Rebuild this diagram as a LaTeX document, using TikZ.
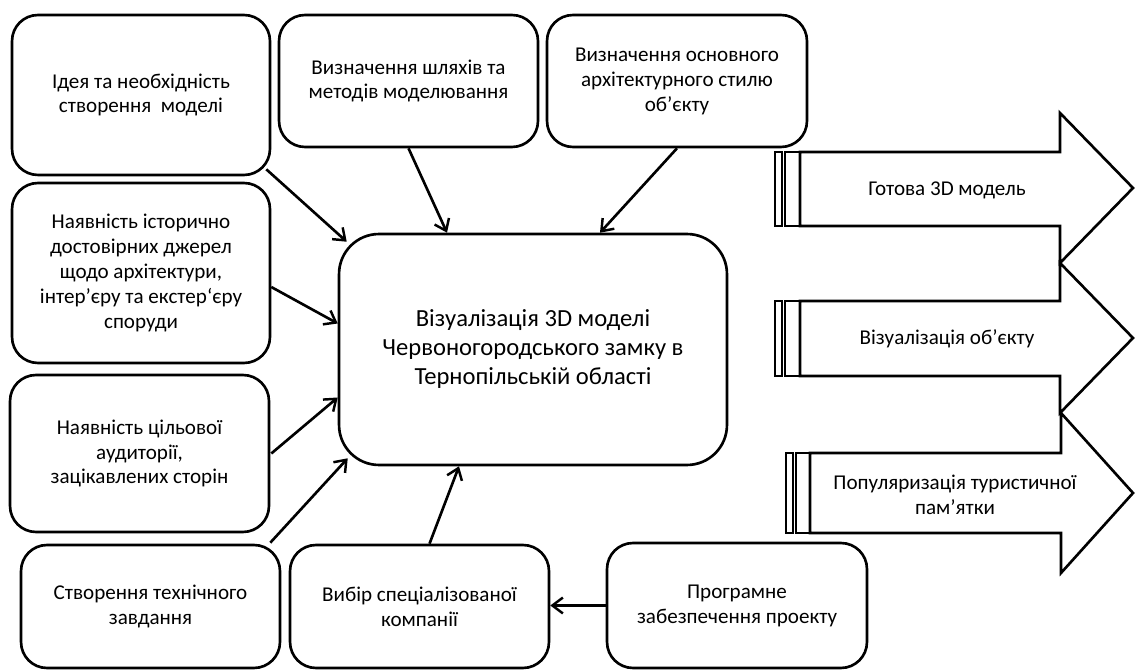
\documentclass[tikz,border=0pt]{standalone}
\usepackage{fontspec}
\setmainfont{Carlito}
\usetikzlibrary{arrows.meta,calc}
\begin{document}
\begin{tikzpicture}[x=0.02cm,y=-0.02cm,
  box/.style={draw, line width=1.5pt, rounded corners=0.52cm, align=center, inner sep=0pt, fill=white,
    font=\fontsize{12}{14.2}\selectfont},
  bigbox/.style={box, rounded corners=0.8cm, font=\fontsize{14}{16.5}\selectfont},
  conn/.style={line width=1.5pt, -{Straight Barb[length=6pt,width=9pt,line width=1.4pt]}},
  stripe/.style={draw, line width=1.5pt, fill=white, line join=miter},
  atext/.style={align=center, inner sep=0pt, font=\fontsize{12}{14.2}\selectfont}]
\useasboundingbox (0,0) rectangle (1135,671);

% boxes
\node[box, minimum width=5.16cm, minimum height=3.2cm] (A) at (141,95) {Ідея та необхідність\\створення~ моделі};
\node[box, minimum width=5.18cm, minimum height=2.64cm] (B) at (408.5,81) {Визначення шляхів та\\методів моделювання};
\node[box, minimum width=5.2cm, minimum height=2.64cm] (C) at (677,81) {Визначення основного\\архітектурного стилю\\об’єкту};
\node[box, minimum width=5.16cm, minimum height=3.6cm] (D) at (141,273) {Наявність історично\\достовірних джерел\\щодо архітектури,\\інтер’єру та екстер‘єру\\споруди};
\node[box, minimum width=5.18cm, minimum height=3.14cm] (E) at (139.5,453.5) {Наявність цільової\\аудиторії,\\зацікавлених сторін};
\node[box, minimum width=5.18cm, minimum height=2.46cm] (F) at (150.5,606.5) {Створення технічного\\завдання};
\node[box, minimum width=5.18cm, minimum height=2.46cm] (G) at (419.5,606.5) {Вибір спеціалізованої\\компанії};
\node[box, minimum width=5.2cm, minimum height=2.5cm] (H) at (737,605.5) {Програмне\\забезпечення проекту};
\node[bigbox, minimum width=7.76cm, minimum height=4.62cm] (M) at (533,349.5) {Візуалізація 3D моделі\\Червоногородського замку в\\Тернопільській області};

% connectors
\draw[conn] ($(A.south east)+(-5,-7)$) -- ($(M.north west)+(9,9)$);
\draw[conn] (B.south) -- ($(M.north)+(-86,0)$);
\draw[conn] (C.south) -- ($(M.north)+(67,0)$);
\draw[conn] ($(D.east)+(0,14)$) -- ($(M.west)+(0,-26)$);
\draw[conn] ($(E.east)+(1,0)$) -- ($(M.west)+(0,48)$);
\draw[conn] ($(F.north east)+(-11,-1)$) -- ($(M.south west)+(10,-8)$);
\draw[conn] ($(G.north)+(10,0)$) -- ($(M.south)+(-74,0)$);
\draw[conn] (H.west) -- (G.east |- H.west);

% striped arrows
\draw[stripe] (775,152) rectangle (782,226);
\draw[stripe] (785,152) rectangle (800,226);
\draw[stripe] (800,152) -- (1060,152) -- (1060,113) -- (1133,188) -- (1060,263) -- (1060,226) -- (800,226) -- cycle;
\node[atext] (R1) at (947,190) {Готова 3D модель};

\draw[stripe] (775,301) rectangle (782,376);
\draw[stripe] (785,301) rectangle (800,376);
\draw[stripe] (800,301) -- (1060,301) -- (1060,263) -- (1133,338) -- (1060,413) -- (1060,376) -- (800,376) -- cycle;
\node[atext] (R2) at (947,339) {Візуалізація об’єкту};

\draw[stripe] (786,453) rectangle (793,533);
\draw[stripe] (796,453) rectangle (810,533);
\draw[stripe] (810,453) -- (1061,453) -- (1061,413) -- (1133,493) -- (1061,573) -- (1061,533) -- (810,533) -- cycle;
\node[atext] (R3) at (955,495) {Популяризація туристичної\\пам’ятки};
\end{tikzpicture}
\end{document}
